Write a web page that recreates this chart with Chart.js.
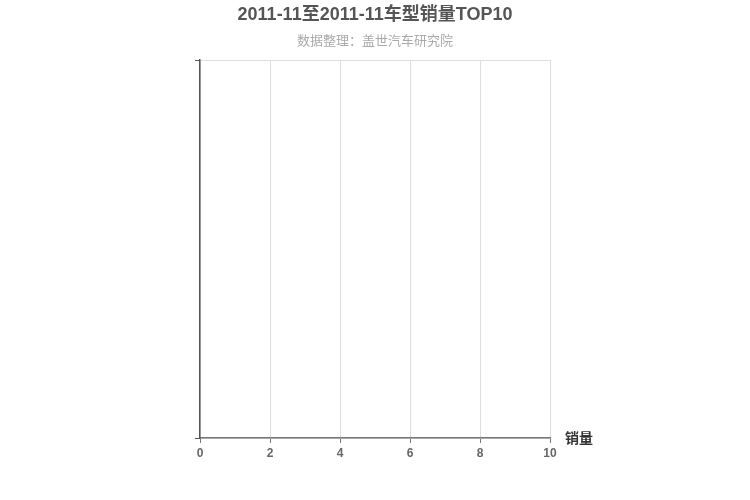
<!DOCTYPE html>
<html>
<head>
<meta charset="utf-8">
<script src="https://cdn.jsdelivr.net/npm/chart.js@4"></script>
<style>
  html, body { margin: 0; padding: 0; background: #fff; }
  #wrap { width: 750px; height: 500px; }
</style>
</head>
<body>
<div id="wrap"><canvas id="my-chart" width="750" height="500"></canvas></div>
<script>
// data: the period had no models listed, so the chart is empty
const categories = [];
const sales = [];
const xTicks = [0, 2, 4, 6, 8, 10];

const titleText = '2011-11至2011-11车型销量TOP10';
const subText = '数据整理：盖世汽车研究院';
const axisName = '销量';

const FONT = '"Liberation Sans", Arial, "Noto Sans CJK SC", sans-serif';

// title, subtitle and axis name
const textPlugin = {
    id: 'texts',
    afterDraw(chart) {
        const ctx = chart.ctx;
        const area = chart.chartArea;
        ctx.save();
        ctx.textAlign = 'center';
        ctx.textBaseline = 'middle';
        ctx.fillStyle = '#555';
        ctx.font = 'bold 18px ' + FONT;
        ctx.fillText(titleText, 375, 15);
        ctx.fillStyle = '#aaa';
        ctx.font = '13px ' + FONT;
        ctx.fillText(subText, 375, 41);
        ctx.textAlign = 'left';
        ctx.fillStyle = '#333';
        ctx.font = 'bold 14px ' + FONT;
        ctx.fillText(axisName, area.right + 15, area.bottom + 1);
        ctx.restore();
    }
};

const data = {
    labels: categories,
    datasets: [{
        label: axisName,
        data: sales,
        backgroundColor: '#c23531'
    }]
};

const config = {
    type: 'bar',
    data: data,
    plugins: [textPlugin],
    options: {
        indexAxis: 'y',
        responsive: false,
        animation: false,
        layout: { padding: { left: 190, right: 200, top: 60, bottom: 0 } },
        plugins: {
            legend: { display: false },
            title: { display: false },
            tooltip: { enabled: false }
        },
        scales: {
            x: {
                type: 'linear',
                min: xTicks[0],
                max: xTicks[xTicks.length - 1],
                afterBuildTicks(scale) {
                    scale.ticks = xTicks.map(v => ({ value: v }));
                },
                afterFit(scale) { scale.height = 62; },
                border: { color: '#777', width: 1.5 },
                grid: {
                    color: '#ddd',
                    tickColor: '#777',
                    tickLength: 5
                },
                ticks: {
                    color: '#666',
                    padding: 3,
                    font: { family: FONT, size: 12, weight: 'bold' }
                }
            },
            y: {
                type: 'linear',
                min: 0,
                max: 1,
                offset: false,
                afterBuildTicks(scale) {
                    scale.ticks = [{ value: 0 }, { value: 1 }];
                },
                afterFit(scale) { scale.width = 10; },
                border: { color: '#555', width: 1.5 },
                grid: {
                    offset: false,
                    color: '#ddd',
                    tickColor: '#555',
                    tickLength: 5
                },
                ticks: {
                    callback: () => '',
                    padding: 0
                }
            }
        }
    }
};

const myChart = new Chart(document.getElementById('my-chart'), config);
</script>
</body>
</html>
